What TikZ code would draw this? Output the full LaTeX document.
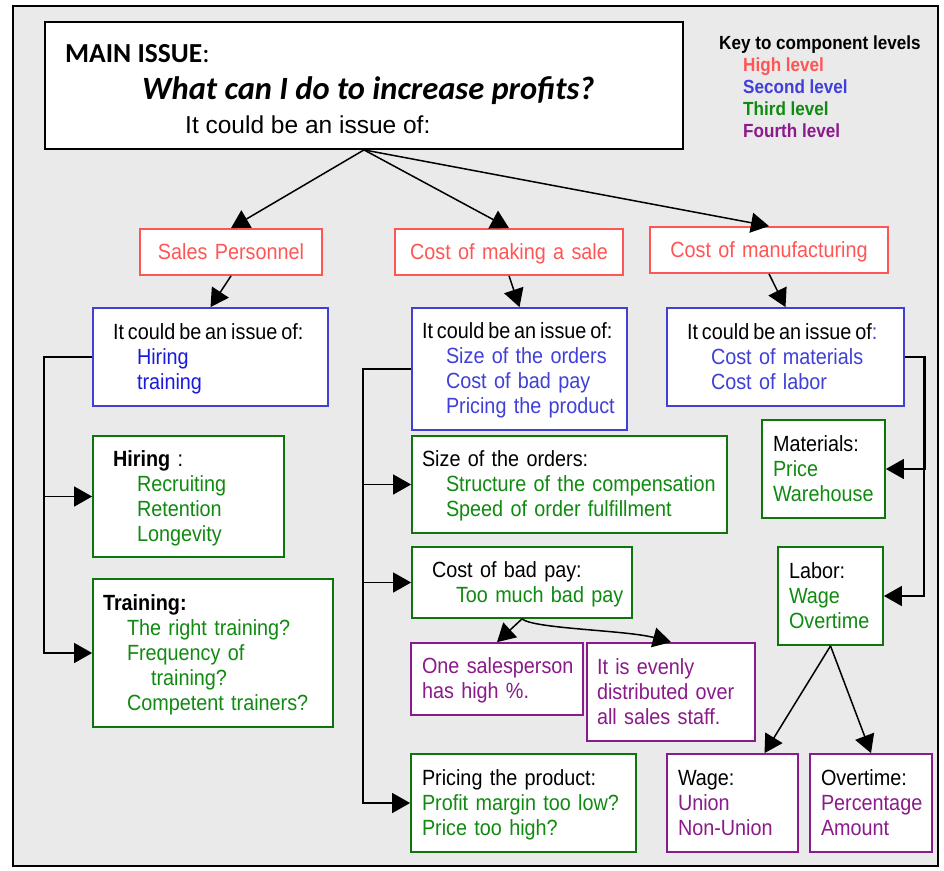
\documentclass[tikz,border=0pt]{standalone}
\usepackage{fontspec}
\setmainfont{Liberation Sans}[FakeStretch=0.9]
\newfontfamily\widefont{Liberation Sans}
\newfontfamily\carlfont{Carlito}
\usetikzlibrary{arrows.meta}
\definecolor{cred}{HTML}{FF5555}
\definecolor{cblueA}{HTML}{1A1ADC}
\definecolor{cblue}{HTML}{4040D8}
\definecolor{cgreen}{HTML}{108A10}
\definecolor{cpurple}{HTML}{8B1A8B}
\definecolor{bggray}{HTML}{EAEAEA}
\newcommand\bxs{\rule[-5.5pt]{0pt}{25pt}}
\newcommand\bxl[1][20]{\bxs\hspace*{#1pt}}
\newcommand\kys{\rule[-4.5pt]{0pt}{22pt}}
\newcommand\tight[1]{\mbox{\spaceskip=0.18em #1}}
\begin{document}
\begin{tikzpicture}[x=1pt,y=-1pt,
  box/.style={draw, line width=1.8pt, fill=white, inner sep=0pt, align=left,
    font=\fontsize{22}{25}\selectfont},
  redbox/.style={box, draw=cred, text=cred, align=center},
  bluebox/.style={box, draw=cblue},
  greenbox/.style={box, draw=cgreen!85!black},
  purplebox/.style={box, draw=cpurple},
  arr/.style={line width=1.5pt, -{Triangle[length=18pt,width=20pt]}},
  plain/.style={anchor=base west, inner sep=0pt}]
\useasboundingbox (0,0) rectangle (944,870);
\draw[line width=2pt, fill=bggray] (13,6) rectangle (938,866);

% main issue
\node[draw, line width=1.8pt, fill=white, minimum width=638pt, minimum height=127pt, inner sep=0pt] (main) at (364,85.5) {};
\node[plain, font=\carlfont\fontsize{27.5}{30}\selectfont] (mi) at (65,62) {\textbf{MAIN ISSUE}:};
\node[plain, font=\carlfont\bfseries\itshape\fontsize{32.5}{36}\selectfont] (q) at (142,99) {What can I do to increase profits?};
\node[plain, font=\widefont\fontsize{24.5}{28}\selectfont] (ic) at (185,133) {It could be an issue of:};

% key
\node[anchor=north west, inner sep=0pt, align=left, font=\bfseries\fontsize{19}{22}\selectfont] (key) at (719,31.5)
 {\kys Key to component levels\\
  \kys\hspace*{24pt}\textcolor{cred}{High level}\\
  \kys\hspace*{24pt}\textcolor{cblue}{Second level}\\
  \kys\hspace*{24pt}\textcolor{cgreen}{Third level}\\
  \kys\hspace*{24pt}\textcolor{cpurple}{Fourth level}};

% high level
\node[redbox, text width=182pt, minimum height=46pt] (sp) at (231,252) {\bxs Sales Personnel};
\node[redbox, text width=228pt, minimum height=46pt] (cms) at (509,252) {\bxs Cost of making a sale};
\node[redbox, text width=238pt, minimum height=46pt] (cmf) at (769,250) {\bxs Cost of manufacturing};

% second level
\node[bluebox, text width=235pt, minimum height=98pt] (b1) at (210.5,357)
 {\bxl\tight{It could be an issue of:}\\
  \bxl[44]\textcolor{cblueA}{Hiring}\\
  \bxl[44]\textcolor{cblueA}{training}};
\node[bluebox, text width=215pt, minimum height=122pt] (b2) at (519.5,369)
 {\bxl[10]\tight{It could be an issue of:}\\
  \bxl[34]\textcolor{cblue}{Size of the orders}\\
  \bxl[34]\textcolor{cblue}{Cost of bad pay}\\
  \bxl[34]\textcolor{cblue}{Pricing the product}};
\node[bluebox, text width=237pt, minimum height=98pt] (b3) at (785.5,357)
 {\bxl\tight{It could be an issue of\textcolor{cblue}{:}}\\
  \bxl[44]\textcolor{cblue}{Cost of materials}\\
  \bxl[44]\textcolor{cblue}{Cost of labor}};

% third level
\node[greenbox, text width=191pt, minimum height=121pt] (hiring) at (188.5,496.5)
 {\bxl\textbf{Hiring} :\\
  \bxl[44]\textcolor{cgreen}{Recruiting}\\
  \bxl[44]\textcolor{cgreen}{Retention}\\
  \bxl[44]\textcolor{cgreen}{Longevity}};
\node[greenbox, text width=240pt, minimum height=148pt] (training) at (213,653)
 {\bxl[10]\textbf{Training:}\\
  \bxl[34]\textcolor{cgreen}{The right training?}\\
  \bxl[34]\textcolor{cgreen}{Frequency of}\\
  \bxl[58]\textcolor{cgreen}{training?}\\
  \bxl[34]\textcolor{cgreen}{Competent trainers?}};
\node[greenbox, text width=315pt, minimum height=97pt] (size) at (569.5,484.5)
 {\bxl[10]Size of the orders:\\
  \bxl[34]\textcolor{cgreen}{Structure of the compensation}\\
  \bxl[34]\textcolor{cgreen}{Speed of order fulfillment}};
\node[greenbox, text width=220pt, minimum height=71pt] (badpay) at (522,582.5)
 {\bxl Cost of bad pay:\\
  \bxl[44]\textcolor{cgreen}{Too much bad pay}};
\node[greenbox, text width=225pt, minimum height=98pt] (pricing) at (523.5,803)
 {\bxl[11]Pricing the product:\\
  \bxl[11]\textcolor{cgreen}{Profit margin too low?}\\
  \bxl[11]\textcolor{cgreen}{Price too high?}};
\node[greenbox, text width=123pt, minimum height=98pt] (materials) at (823.5,469)
 {\bxl[11]Materials:\\
  \bxl[11]\textcolor{cgreen}{Price}\\
  \bxl[11]\textcolor{cgreen}{Warehouse}};
\node[greenbox, text width=105pt, minimum height=98pt] (labor) at (830.5,596)
 {\bxl[11]Labor:\\
  \bxl[11]\textcolor{cgreen}{Wage}\\
  \bxl[11]\textcolor{cgreen}{Overtime}};

% fourth level
\node[purplebox, text width=172pt, minimum height=72pt] (one) at (497,679)
 {\bxl[11]\textcolor{cpurple}{One salesperson}\\
  \bxl[11]\textcolor{cpurple}{has high \%.}};
\node[purplebox, text width=168pt, minimum height=98pt] (even) at (671,692)
 {\bxl[10]\textcolor{cpurple}{It is evenly}\\
  \bxl[10]\textcolor{cpurple}{distributed over}\\
  \bxl[10]\textcolor{cpurple}{all sales staff.}};
\node[purplebox, text width=131pt, minimum height=98pt] (wage) at (732.5,803)
 {\bxl[11]Wage:\\
  \bxl[11]\textcolor{cpurple}{Union}\\
  \bxl[11]\textcolor{cpurple}{Non-Union}};
\node[purplebox, text width=122pt, minimum height=98pt] (overtime) at (871,803)
 {\bxl[11]Overtime:\\
  \bxl[11]\textcolor{cpurple}{Percentage}\\
  \bxl[11]\textcolor{cpurple}{Amount}};

% connectors
\draw[arr] (main.south) -- (sp.north);
\draw[arr] (main.south) -- (cms.north);
\draw[arr] (main.south) -- (cmf.north);
\draw[arr] (sp.south) -- (b1.north);
\draw[arr] (cms.south) -- (b2.north);
\draw[arr] (cmf.south) -- (b3.north);
\draw[arr] (b1.west) -- ++(-48,0) |- (hiring.west);
\draw[arr] (b1.west) -- ++(-48,0) |- (training.west);
\draw[arr] (b2.west) -- ++(-48,0) |- (size.west);
\draw[arr] (b2.west) -- ++(-48,0) |- (badpay.west);
\draw[arr] (b2.west) -- ++(-48,0) |- (pricing.west);
\draw[arr] (b3.east) -- ++(20.5,0) |- (materials.east);
\draw[arr] (b3.east) -- ++(19,0) |- (labor.east);
\draw[arr] (badpay.south) -- (one.north);
\draw[arr] (badpay.south) .. controls +(12,10) and +(-45,-12) .. (even.north);
\draw[arr] (labor.south) -- ([xshift=32pt]wage.north);
\draw[arr] (labor.south) -- (overtime.north);
\end{tikzpicture}
\end{document}
